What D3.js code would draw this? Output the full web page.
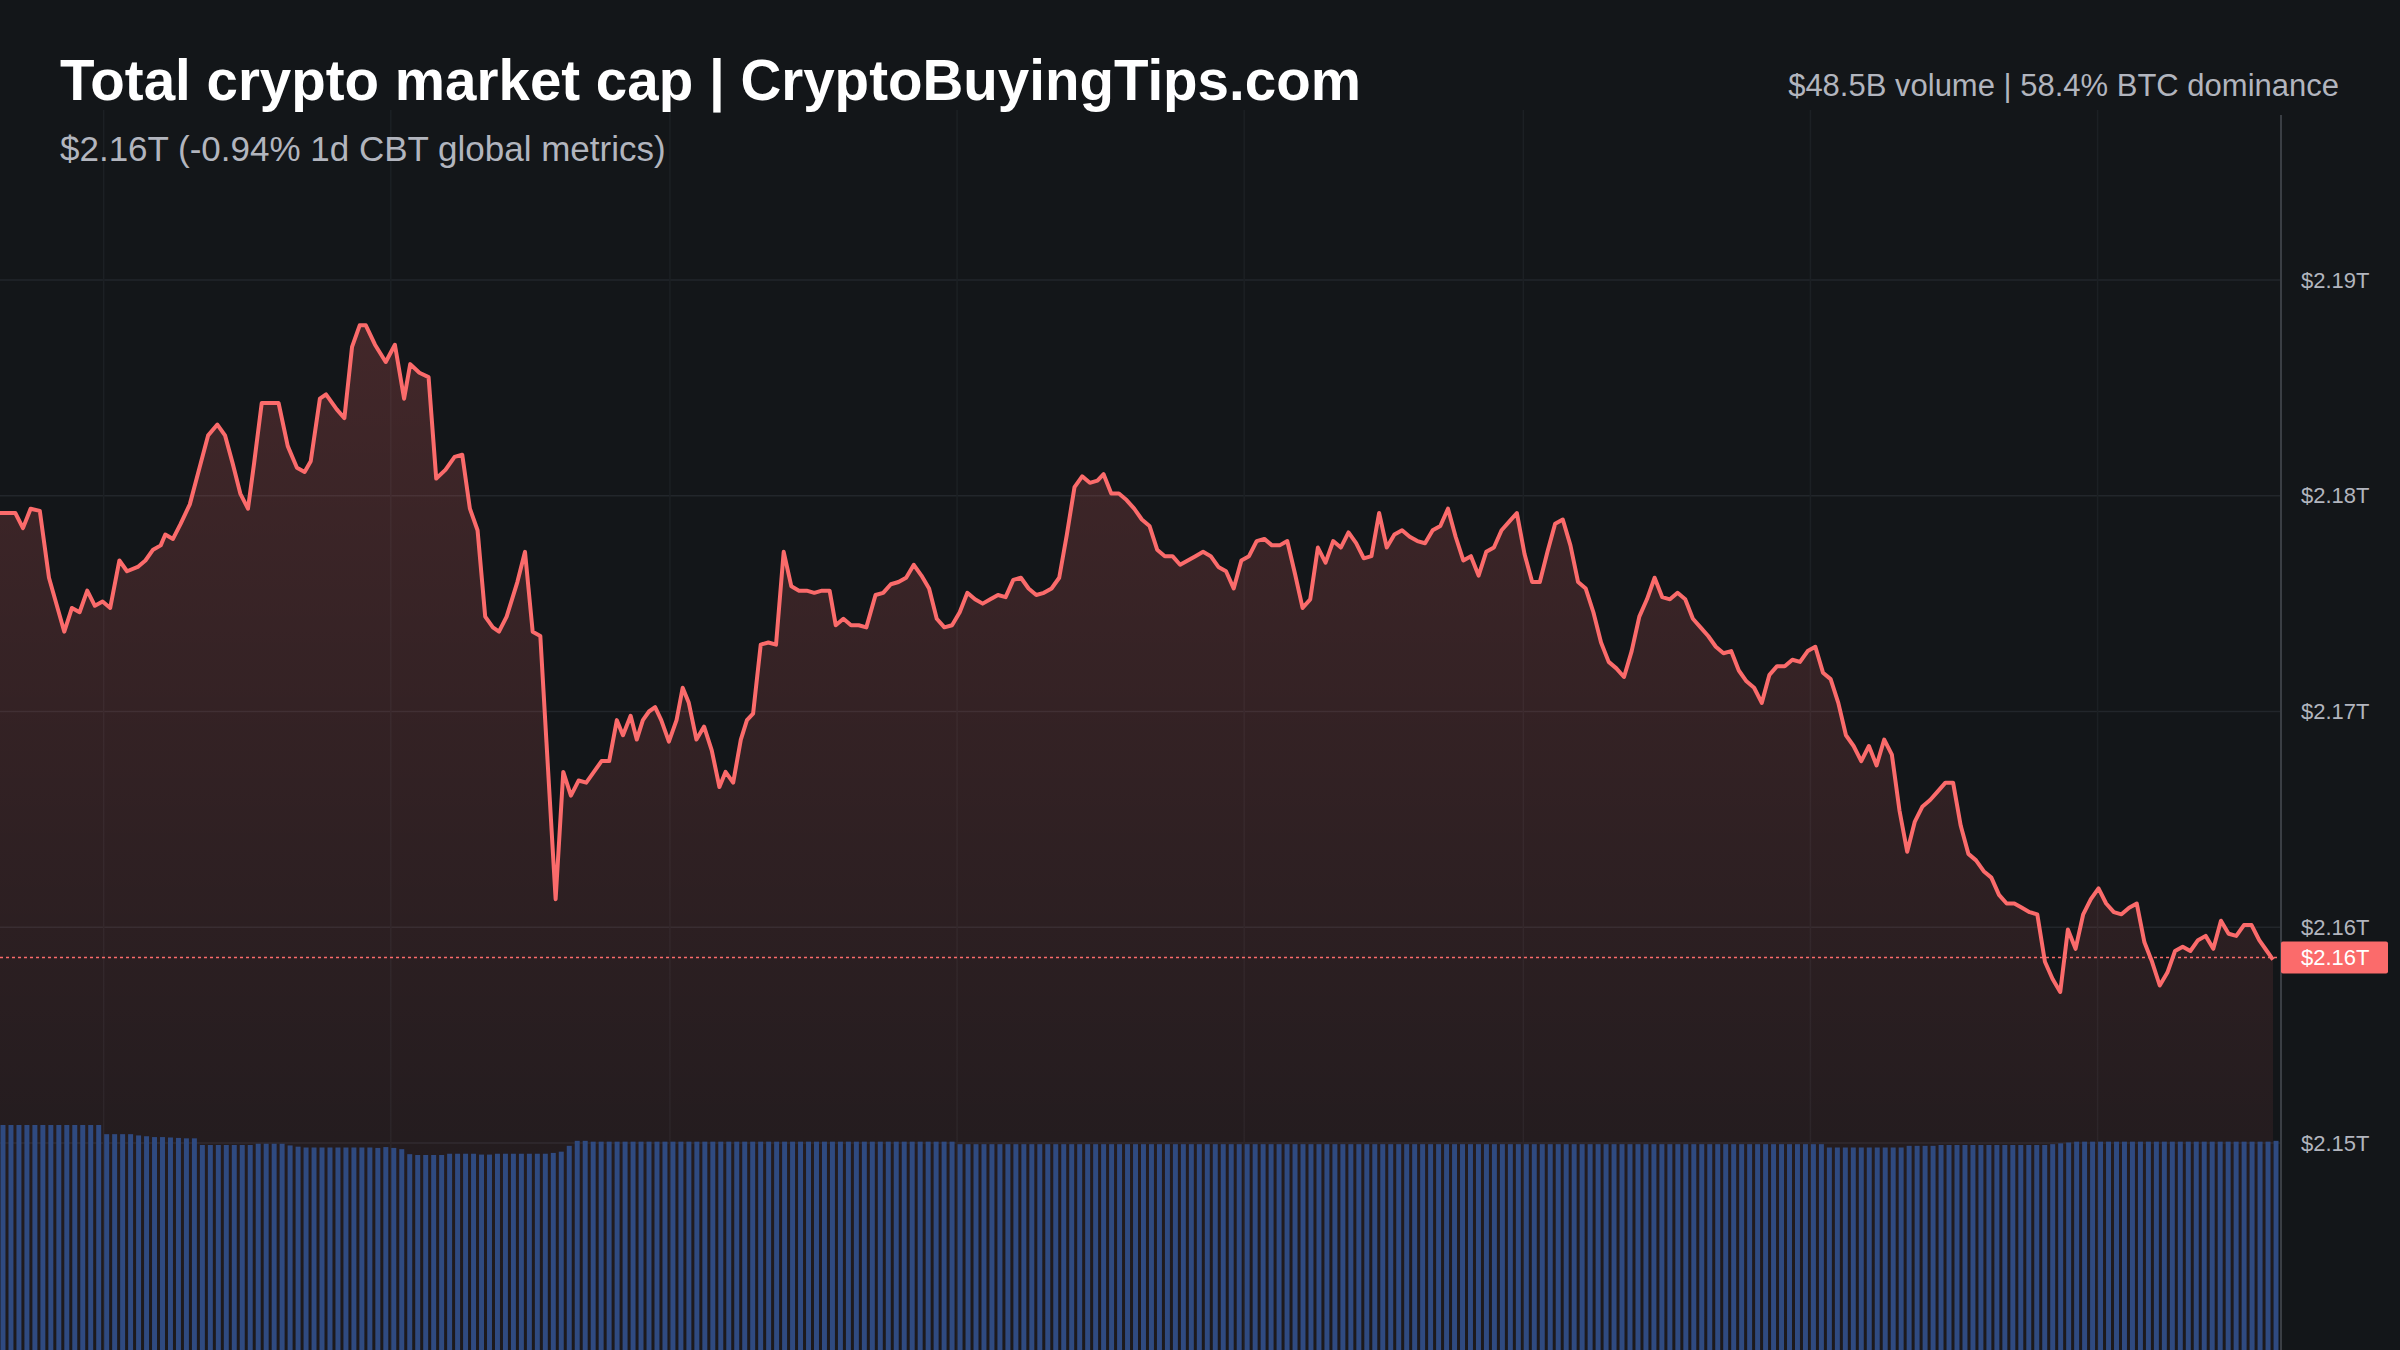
<!DOCTYPE html>
<html><head><meta charset="utf-8">
<script src="https://cdn.jsdelivr.net/npm/d3@7"></script>
<style>html,body{margin:0;padding:0;background:#131619;overflow:hidden}</style>
</head><body><svg id="c" width="2400" height="1350"></svg>
<script>
const title = "Total crypto market cap | CryptoBuyingTips.com";
const subtitle = "$2.16T (-0.94% 1d CBT global metrics)";
const headerRight = "$48.5B volume | 58.4% BTC dominance";
const yTicks = [2150, 2160, 2170, 2180, 2190];
const tickLabels = ["$2.15T", "$2.16T", "$2.17T", "$2.18T", "$2.19T"];
const lastLabel = "$2.16T";
const lastPrice = 2158.6;
// sample times (relative time units)
const times = [0,10,15,20,26,32,42,47,52,57,62,67,72,78,83,90,95,100,105,108,113,118,124,130,136,142,147,152,157,162,166,171,178,182,188,194,199,203,209,213,220,225,230,235,239,245,252,258,264,268,274,280,285,291,297,302,307,312,317,322,326,331,338,343,348,353,357,363,368,373,378,383,388,393,398,403,407,412,416,420,424,428,432,437,442,446,450,455,460,465,470,474,479,484,488,492,497,502,507,512,
517,522,527,532,537,542,546,551,556,561,566,572,577,582,587,592,597,602,607,612,617,622,627,632,637,642,647,652,657,662,667,672,677,682,687,692,697,
702,707,712,717,721,726,731,736,741,746,751,756,761,766,771,776,781,786,791,796,801,806,811,816,821,826,831,836,841,846,851,856,861,866,871,876,881,886,891,896,901,906,911,916,921,926,931,936,941,946,951,956,961,966,971,976,981,986,991,996,
1001,1006,1011,1016,1021,1026,1031,1036,1041,1046,1051,1056,1061,1066,1071,1076,1081,1086,1091,1096,1101,1106,1111,1116,1121,1126,1131,1136,1141,1146,1151,1156,1161,1166,1171,1176,1181,1186,1191,1196,1201,1206,1211,1216,1221,1226,1231,1236,1241,1246,1251,1256,1261,1266,1271,1276,1281,1286,1291,1296,1301,1306,1311,1316,1321,1326,1331,1336,1341,1346,1351,1356,1361,1366,1371,1376,1381,1386,1391,1396,1401,1406,1411,1416,1421,1426,1431,1436,1441,1446,1451,1456,1461,1466,1471,1476,1481,1485];
// market cap in $B
const price = [2179.2,2179.2,2178.5,2179.4,2179.3,2176.2,2173.7,2174.8,2174.6,2175.6,2174.9,2175.1,2174.8,2177.0,2176.5,2176.7,2177.0,2177.5,2177.7,2178.2,2178.0,2178.7,2179.6,2181.2,2182.8,2183.3,2182.8,2181.5,2180.1,2179.4,2181.5,2184.3,2184.3,2184.3,2182.3,2181.3,2181.1,2181.6,2184.5,2184.7,2184.0,2183.6,2186.9,2187.9,2187.9,2187.0,2186.2,2187.0,2184.5,2186.1,2185.7,2185.5,2180.8,2181.2,2181.8,2181.9,2179.4,2178.4,2174.4,2173.9,2173.7,2174.4,2176.0,2177.4,2173.7,2173.5,2168.6,2161.3,2167.2,2166.1,2166.8,2166.7,2167.2,2167.7,2167.7,2169.6,2168.9,2169.8,2168.7,2169.6,2170.0,2170.2,2169.6,2168.6,2169.6,2171.1,2170.4,2168.7,2169.3,2168.2,2166.5,2167.2,2166.7,2168.7,2169.6,2169.9,2173.1,2173.2,2173.1,2177.4,2175.8,2175.6,2175.6,2175.5,2175.6,2175.6,2174.0,2174.3,2174.0,2174.0,2173.9,2175.4,2175.5,2175.9,2176.0,2176.2,2176.8,2176.3,2175.7,2174.3,2173.9,2174.0,2174.6,2175.5,2175.2,2175.0,2175.2,2175.4,2175.3,2176.1,2176.2,2175.7,2175.4,2175.5,2175.7,2176.2,2178.2,2180.4,2180.9,2180.6,2180.7,2181.0,2180.1,2180.1,2179.8,2179.4,2178.9,2178.6,2177.5,2177.2,2177.2,2176.8,2177.0,2177.2,2177.4,2177.2,2176.7,2176.5,2175.7,2177.0,2177.2,2177.9,2178.0,2177.7,2177.7,2177.9,2176.4,2174.8,2175.2,2177.6,2176.9,2177.9,2177.6,2178.3,2177.8,2177.1,2177.2,2179.2,2177.6,2178.2,2178.4,2178.1,2177.9,2177.8,2178.4,2178.6,2179.4,2178.1,2177.0,2177.2,2176.3,2177.4,2177.6,2178.4,2178.8,2179.2,2177.3,2176.0,2176.0,2177.4,2178.7,2178.9,2177.7,2176.0,2175.7,2174.6,2173.2,2172.3,2172.0,2171.6,2172.8,2174.4,2175.2,2176.2,2175.3,2175.2,2175.5,2175.2,2174.3,2173.9,2173.5,2173.0,2172.7,2172.8,2171.9,2171.4,2171.1,2170.4,2171.7,2172.1,2172.1,2172.4,2172.3,2172.8,2173.0,2171.8,2171.5,2170.4,2168.9,2168.4,2167.7,2168.4,2167.5,2168.7,2168.0,2165.4,2163.5,2164.9,2165.6,2165.9,2166.3,2166.7,2166.7,2164.7,2163.4,2163.1,2162.6,2162.3,2161.5,2161.1,2161.1,2160.9,2160.7,2160.6,2158.4,2157.6,2157.0,2159.9,2159.0,2160.6,2161.3,2161.8,2161.1,2160.7,2160.6,2160.9,2161.1,2159.3,2158.4,2157.3,2157.9,2158.9,2159.1,2158.9,2159.4,2159.6,2159.0,2160.3,2159.7,2159.6,2160.1,2160.1,2159.4,2158.9,2158.5];
// volume per bar ($B, relative)
const volume = [
54.0,54.0,54.0,54.0,54.0,54.0,54.0,54.0,54.0,54.0,54.0,54.0,54.0,
51.8,51.8,51.8,51.8,51.5,51.3,51.1,51.1,51.0,50.9,50.8,50.8,
49.2,49.2,49.2,49.2,49.2,49.2,49.2,49.5,49.5,49.5,49.5,49.1,48.8,48.6,48.6,48.6,48.6,48.6,48.6,48.6,48.6,48.6,48.5,48.7,
48.5,48.2,
47.0,46.8,46.8,46.8,46.8,47.1,47.1,47.1,47.1,46.9,46.9,47.1,47.1,47.1,47.1,47.1,47.1,47.1,47.3,47.6,
49.0,
50.2,50.2,50.0,50.0,50.0,50.0,50.0,50.0,50.0,50.0,50.0,50.0,50.0,50.0,50.0,50.0,50.0,50.0,50.0,50.0,50.0,50.0,50.0,50.0,50.0,50.0,50.0,50.0,50.0,50.0,50.0,50.0,50.0,50.0,50.0,50.0,50.0,50.0,50.0,50.0,50.0,50.0,50.0,50.0,50.0,50.0,50.0,50.0,
49.4,49.4,49.4,49.4,49.4,49.4,49.4,49.4,49.4,49.4,49.4,49.4,49.4,49.4,49.4,49.4,49.4,49.4,49.4,49.4,49.4,49.4,49.4,49.4,49.4,49.4,49.4,49.4,49.4,49.4,49.4,49.4,49.4,49.4,49.4,49.4,49.4,49.4,49.4,49.4,49.4,49.4,49.4,49.4,49.4,49.4,49.4,49.4,49.4,49.4,49.4,49.4,49.4,49.4,49.4,49.4,49.4,49.4,49.4,49.4,49.4,49.4,49.4,49.4,49.4,49.4,49.4,49.4,49.4,49.4,49.4,49.4,49.4,49.4,49.4,49.4,49.4,49.4,49.4,49.4,49.4,49.4,49.4,49.4,49.4,49.4,49.4,49.4,49.4,49.4,49.4,49.4,49.4,49.4,49.4,49.4,49.4,49.4,49.4,49.4,49.4,49.4,49.4,49.4,49.4,49.4,49.4,49.4,49.4,
48.6,48.6,48.6,48.6,48.6,48.6,48.6,48.6,48.6,48.6,
49.0,49.0,49.0,49.0,49.2,49.2,49.2,49.2,49.2,49.2,49.2,49.2,49.2,49.2,49.2,49.2,49.2,49.2,49.4,49.6,49.8,
50.0,50.0,50.0,50.0,50.0,50.0,50.0,50.0,50.0,50.0,50.0,50.0,50.0,50.0,50.0,50.0,50.0,50.0,50.0,50.0,50.0,50.0,50.0,50.0,50.0,50.2];
const timeGridIdx = [13, 49, 84, 120, 156, 191, 227, 263];

const svg = d3.select("#c");
const W = 2400, H = 1350, plotR = 2281;
const font = "'Liberation Sans', Arial, sans-serif";
const bg = "#131619";
svg.append("rect").attr("width",W).attr("height",H).attr("fill",bg);

const n = Math.min(times.length, price.length);
const pts = price.slice(0, n).map((v,i)=>({t:times[i], v}));
const y = d3.scaleLinear().domain([2150, 2190]).range([1143, 280]);
const x = d3.scaleLinear().domain([0, times[n-1]]).range([0, 2273]);
const xb = d3.scaleLinear().domain([0, volume.length]).range([0, plotR]);
const yv = d3.scaleLinear().domain([0, 60]).range([H, 1100]);

const g = svg.append("g");
g.selectAll(".hg").data(yTicks).join("line")
 .attr("x1",0).attr("x2",plotR).attr("y1",d=>y(d)).attr("y2",d=>y(d))
 .attr("stroke","#22262b").attr("stroke-width",1.5);
g.selectAll(".vg").data(timeGridIdx).join("line")
 .attr("x1",d=>xb(d)).attr("x2",d=>xb(d)).attr("y1",110).attr("y2",H)
 .attr("stroke","#1c2024").attr("stroke-width",1.5);

const defs = svg.append("defs");
const grad = defs.append("linearGradient").attr("id","ag").attr("x1",0).attr("x2",0).attr("y1",0).attr("y2",1);
grad.append("stop").attr("offset","0%").attr("stop-color","#ff6b6b").attr("stop-opacity",0.2);
grad.append("stop").attr("offset","100%").attr("stop-color","#ff6b6b").attr("stop-opacity",0.04);

const area = d3.area().x(d=>x(d.t)).y0(H).y1(d=>y(d.v));
svg.append("path").datum(pts).attr("d",area).attr("fill","url(#ag)");

const bw = xb(1)-xb(0);
svg.append("g").selectAll("rect").data(volume).join("rect")
 .attr("x",(d,i)=>xb(i)+0.5).attr("width",bw-3)
 .attr("y",d=>yv(d)).attr("height",d=>H-yv(d))
 .attr("fill","#2f4a80");

const line = d3.line().x(d=>x(d.t)).y(d=>y(d.v));
svg.append("path").datum(pts).attr("d",line).attr("fill","none")
 .attr("stroke","#fb6b6b").attr("stroke-width",4).attr("stroke-linejoin","round");

svg.append("line").attr("x1",0).attr("x2",plotR).attr("y1",y(lastPrice)).attr("y2",y(lastPrice))
 .attr("stroke","#fb6b6b").attr("stroke-width",1.5).attr("stroke-dasharray","3,3");

svg.append("line").attr("x1",plotR).attr("x2",plotR).attr("y1",115).attr("y2",H)
 .attr("stroke","#3a3e44").attr("stroke-width",2);
const axis = d3.axisRight(y).tickValues(yTicks).tickSize(0).tickPadding(20)
 .tickFormat((d,i)=>tickLabels[i]);
const ag = svg.append("g").attr("transform",`translate(${plotR},0)`).call(axis);
ag.select(".domain").remove();
ag.selectAll("text").attr("fill","#b2b5be").attr("font-size",22).attr("font-family",font);

svg.append("rect").attr("x",plotR).attr("y",y(lastPrice)-16).attr("width",107).attr("height",32)
 .attr("rx",2).attr("fill","#fb6b6b");
svg.append("text").attr("x",plotR+20).attr("y",y(lastPrice)).attr("dy","0.35em")
 .attr("fill","#fff").attr("font-size",22).attr("font-family",font).text(lastLabel);

svg.append("text").attr("x",60).attr("y",100).attr("fill","#fff").attr("font-weight","bold")
 .attr("font-size",56.5).attr("font-family",font).text(title);
svg.append("text").attr("x",60).attr("y",161).attr("fill","#b2b5be")
 .attr("font-size",35).attr("font-family",font).text(subtitle);
svg.append("text").attr("x",2339).attr("y",96).attr("text-anchor","end").attr("fill","#b2b5be")
 .attr("font-size",31).attr("font-family",font).text(headerRight);
</script></body></html>
